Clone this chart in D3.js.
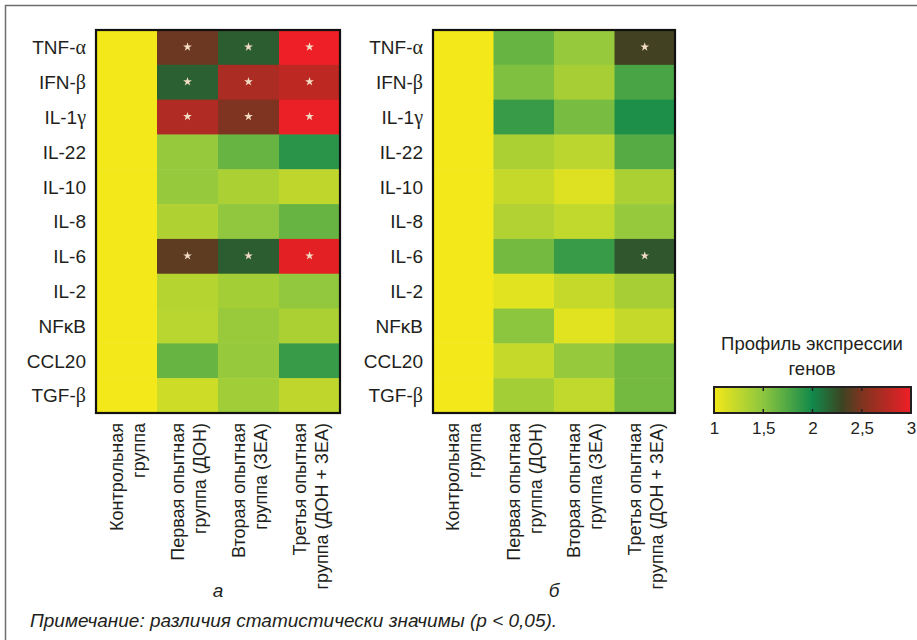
<!DOCTYPE html>
<html><head><meta charset="utf-8">
<script src="https://cdn.jsdelivr.net/npm/d3@7"></script>
<style>
body{margin:0;background:#fff}
text{font-family:"Liberation Sans",Arial,sans-serif;fill:#231f20}
</style>
</head><body>
<svg id="c" width="917" height="640"></svg>
<script>
const genes = ["TNF-α","IFN-β","IL-1γ","IL-22","IL-10","IL-8","IL-6","IL-2","NFκB","CCL20","TGF-β"];
const groups = ["control","first","second","third"];
const groupLabels = [
  ["Контрольная","группа"],
  ["Первая опытная","группа (ДОН)"],
  ["Вторая опытная","группа (ЗЕА)"],
  ["Третья опытная","группа (ДОН + ЗЕА)"]
];
// panel а
const valuesA = [
  [1, 2.45, 2.19, 3.0],
  [1, 2.18, 2.7, 2.78],
  [1, 2.72, 2.5, 2.98],
  [1, 1.45, 1.65, 1.9],
  [1, 1.45, 1.35, 1.25],
  [1, 1.33, 1.48, 1.65],
  [1, 2.4, 2.19, 2.95],
  [1, 1.3, 1.38, 1.47],
  [1, 1.28, 1.44, 1.35],
  [1, 1.65, 1.45, 1.85],
  [1, 1.18, 1.4, 1.25]
];
// panel б
const valuesB = [
  [1, 1.65, 1.45, 2.32],
  [1, 1.55, 1.37, 1.78],
  [1, 1.85, 1.58, 1.95],
  [1, 1.35, 1.27, 1.72],
  [1, 1.22, 1.1, 1.35],
  [1, 1.32, 1.24, 1.45],
  [1, 1.6, 1.85, 2.22],
  [1, 1.08, 1.22, 1.37],
  [1, 1.5, 1.08, 1.22],
  [1, 1.22, 1.45, 1.6],
  [1, 1.38, 1.24, 1.6]
];
// significant cells [row, col]
const sigA = [[0,1],[0,2],[0,3],[1,1],[1,2],[1,3],[2,1],[2,2],[2,3],[6,1],[6,2],[6,3]];
const sigB = [[0,3],[6,3]];
const panelLetters = ["а","б"];
const legendTitle = ["Профиль экспрессии","генов"];
const legendTicks = [1,1.5,2,2.5,3];
const colorStops = [1,1.5,2,2.3,2.5,3];
const colorRange = ["#f2e81a","#8cc63f","#12894a","#3b4422","#7e3420","#ee1f26"];
const note = "Примечание: различия статистически значимы (p < 0,05).";

const svg = d3.select("#c");
const color = d3.scaleLinear().domain(colorStops).range(colorRange).interpolate(d3.interpolateRgb);

// frame
svg.append("path").attr("d","M5.5,640 V5.5 H917").attr("fill","none").attr("stroke","#6d6e71").attr("stroke-width",1.5);

const y = d3.scaleBand().domain(genes).range([30,413]);

function greekLabel(sel){
  sel.each(function(d){
    const t = d3.select(this); t.text(null);
    const parts = d.match(/[α-ωΑ-Ω]+|[^α-ωΑ-Ω]+/g);
    parts.forEach(p=>{
      const ts = t.append("tspan").text(p);
      if(/[α-ω]/.test(p) && p!=="κ") ts.style("font-family","'Liberation Serif','DejaVu Serif',serif").style("font-size","20px");
    });
  });
}

function panel(x0,x1,values,sig,letter){
  const x = d3.scaleBand().domain(groups).range([x0,x1]);
  const g = svg.append("g");
  const cells = [];
  values.forEach((row,i)=>row.forEach((v,j)=>cells.push({gene:genes[i],grp:groups[j],v})));
  g.selectAll("rect.cell").data(cells).join("rect").attr("class","cell")
    .attr("x",d=>x(d.grp)).attr("y",d=>y(d.gene))
    .attr("width",x.bandwidth()+0.5).attr("height",y.bandwidth()+0.5)
    .attr("fill",d=>color(d.v));
  g.append("rect").attr("x",x0).attr("y",30).attr("width",x1-x0).attr("height",413-30)
    .attr("fill","none").attr("stroke","#111").attr("stroke-width",2.2);
  // stars
  g.selectAll("path.star").data(sig).join("path").attr("class","star")
    .attr("d",d3.symbol(d3.symbolStar,24))
    .attr("transform",d=>`translate(${x(groups[d[1]])+x.bandwidth()/2},${y(genes[d[0]])+y.bandwidth()/2-0.5})`)
    .attr("fill","#f3dcc4");
  // row labels
  const ax = g.append("g").attr("transform",`translate(${x0},0)`)
    .call(d3.axisLeft(y).tickSize(0).tickPadding(10));
  ax.select(".domain").remove();
  ax.selectAll("text").style("font-size","19px").attr("fill","#231f20").attr("dy","0.36em")
    .call(greekLabel);
  // column labels
  const cl = g.append("g");
  groups.forEach((grp,j)=>{
    const cx = x(grp)+x.bandwidth()/2;
    groupLabels[j].forEach((line,k)=>{
      cl.append("text").attr("transform",`translate(${cx + (k===0?-4:18)},423) rotate(-90)`)
        .attr("text-anchor","end").style("font-size","18px").text(line);
    });
  });
  g.append("text").attr("x",(x0+x1)/2).attr("y",597).attr("text-anchor","middle")
    .style("font-size","19px").style("font-style","italic").text(letter);
}

panel(96,340,valuesA,sigA,panelLetters[0]);
panel(433,675,valuesB,sigB,panelLetters[1]);

// legend
const lx = d3.scaleLinear().domain([1,3]).range([714,911]);
const defs = svg.append("defs");
const grad = defs.append("linearGradient").attr("id","lg");
d3.range(0,1.0001,0.05).forEach(t=>{
  grad.append("stop").attr("offset",t).attr("stop-color",color(1+2*t));
});
svg.append("rect").attr("x",lx(1)).attr("y",387).attr("width",lx(3)-lx(1)).attr("height",26)
  .attr("fill","url(#lg)").attr("stroke","#231f20").attr("stroke-width",2);
const lt = svg.append("g");
lt.selectAll("line.t").data(legendTicks.slice(1,-1)).join("line").attr("class","t")
  .attr("x1",d=>lx(d)).attr("x2",d=>lx(d)).attr("y1",387).attr("y2",391).attr("stroke","#231f20").attr("stroke-width",1.5);
lt.selectAll("line.b").data(legendTicks.slice(1,-1)).join("line").attr("class","b")
  .attr("x1",d=>lx(d)).attr("x2",d=>lx(d)).attr("y1",409).attr("y2",413).attr("stroke","#231f20").attr("stroke-width",1.5);
const lax = svg.append("g").attr("transform","translate(0,413)")
  .call(d3.axisBottom(lx).tickValues(legendTicks).tickSize(0).tickPadding(9).tickFormat(d=>String(d).replace(".",",")));
lax.select(".domain").remove();
lax.selectAll("text").style("font-size","17px").attr("fill","#231f20");
legendTitle.forEach((t,i)=>{
  svg.append("text").attr("x",812).attr("y",350+25*i).attr("text-anchor","middle").style("font-size","18.5px").text(t);
});

// note
svg.append("text").attr("x",30).attr("y",627).style("font-size","19px").style("font-style","italic").text(note);
</script>
</body></html>
